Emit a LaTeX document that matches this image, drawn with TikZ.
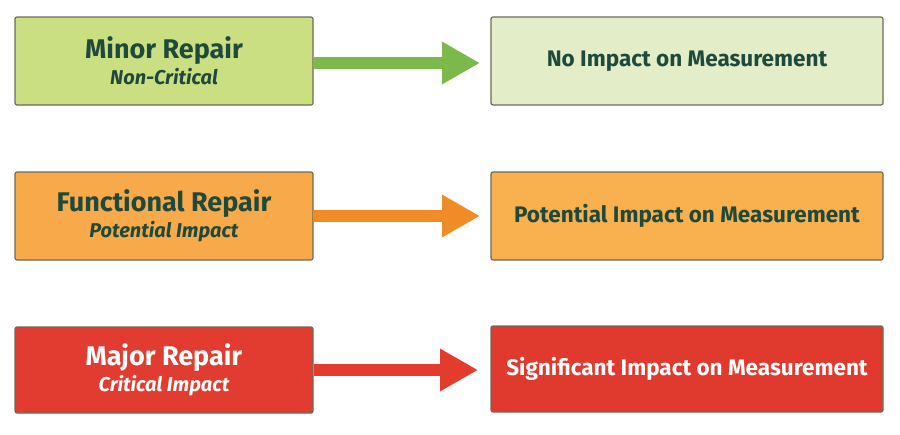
\documentclass[tikz,border=0pt]{standalone}
\usepackage{fontspec}
\setmainfont{Fira Sans}
\usetikzlibrary{arrows.meta}
\definecolor{txt}{HTML}{1F4A3B}
\definecolor{gL}{HTML}{CADF82}\definecolor{gR}{HTML}{E3EDC8}\definecolor{gA}{HTML}{7DB94A}
\definecolor{oL}{HTML}{F8AA4A}\definecolor{oR}{HTML}{F9B04F}\definecolor{oA}{HTML}{F08C25}
\definecolor{rL}{HTML}{E23B2F}\definecolor{rR}{HTML}{E03A2E}\definecolor{rA}{HTML}{E33B2E}
\definecolor{edge}{HTML}{6E6A5A}
\tikzset{
 lbox/.style={draw=edge,line width=1.2pt,rounded corners=2pt,minimum width=298pt,minimum height=88pt,align=center,inner sep=0pt},
 rbox/.style={draw=edge,line width=1.2pt,rounded corners=2pt,minimum width=392pt,minimum height=88pt,align=center,inner sep=0pt},
 arr/.style={line width=12pt,-{Triangle[length=38pt,width=40pt]}},
}
\newcommand\ttl[1]{{\fontsize{27}{30}\selectfont\bfseries #1}}
\newcommand\subt[1]{{\fontsize{20}{24}\selectfont\bfseries\itshape #1}}
\newcommand\rtx[1]{{\fontsize{22.5}{26}\selectfont\bfseries #1}}
\begin{document}
\begin{tikzpicture}[x=1pt,y=1pt]
\useasboundingbox (0,0) rectangle (900,-434);
\node[lbox,fill=gL,text=txt] (l1) at (164,-61) {\ttl{Minor Repair}\\[3pt]\subt{Non-Critical}};
\node[rbox,fill=gR,text=txt] (r1) at (687,-61) {\rtx{No Impact on Measurement}};
\node[lbox,fill=oL,text=txt] (l2) at (164,-216) {\ttl{Functional Repair}\\[3pt]\subt{Potential Impact}};
\node[rbox,fill=oR,text=txt] (r2) at (687,-216) {\rtx{Potential Impact on Measurement}};
\node[lbox,fill=rL,text=white,minimum height=86pt] (l3) at (164,-370) {\ttl{Major Repair}\\[3pt]\subt{Critical Impact}};
\node[rbox,fill=rR,text=white,minimum height=86pt] (r3) at (687,-369) {\rtx{Significant Impact on Measurement}};
\coordinate (e1) at (480,-63);\coordinate (e2) at (480,-216);\coordinate (e3) at (478,-370);
\draw[arr,gA] (l1.east|-e1) -- (e1);
\draw[arr,oA] (l2.east|-e2) -- (e2);
\draw[arr,rA] (l3.east|-e3) -- (e3);
\end{tikzpicture}
\end{document}
